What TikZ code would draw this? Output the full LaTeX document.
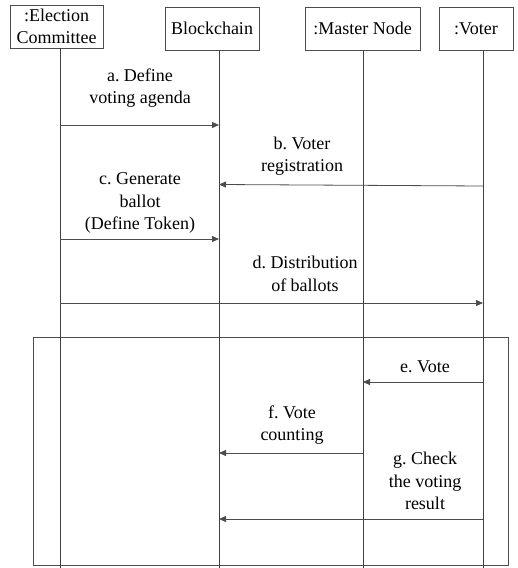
\documentclass[tikz,border=0pt]{standalone}
\usepackage{fontspec}
\setmainfont{Liberation Serif}
\usetikzlibrary{arrows.meta}
\begin{document}
\begin{tikzpicture}[x=1pt,y=-1pt,
  head/.style={draw=black!70,line width=0.8pt,inner sep=0pt,align=center,font=\fontsize{18}{21.5}\selectfont\frenchspacing},
  life/.style={draw=black!75,line width=0.7pt},
  msg/.style={draw=black!70,line width=0.8pt,-{Triangle[length=7pt,width=6pt]}},
  lbl/.style={align=center,inner sep=0pt,font=\fontsize{18}{22.5}\selectfont\frenchspacing},
  frame/.style={draw=black!70,line width=0.8pt}]
\useasboundingbox (0,0) rectangle (518,568);
% headers
\node[head,minimum width=93pt,minimum height=43pt] (ec) at (56.5,26.5) {:Election\\Committee};
\node[head,minimum width=94pt,minimum height=43pt] (bc) at (212,28.5) {Blockchain};
\node[head,minimum width=115pt,minimum height=43pt] (mn) at (362.5,28.5) {:Master Node};
\node[head,minimum width=74pt,minimum height=43pt] (vo) at (476,28.5) {:Voter};
% lifeline ends
\coordinate (ecb) at (60,568);
\coordinate (bcb) at (219,568);
\coordinate (mnb) at (363,568);
\coordinate (vob) at (483,568);
\coordinate (ect) at (60,48);
\coordinate (bct) at (219,50);
\coordinate (mnt) at (363,50);
\coordinate (vot) at (483,50);
\draw[life] (ect) -- (ecb);
\draw[life] (bct) -- (bcb);
\draw[life] (mnt) -- (mnb);
\draw[life] (vot) -- (vob);
% frame
\node[frame,minimum width=475pt,minimum height=228pt,inner sep=0pt] (fr) at (270.5,451) {};
% message end points
\coordinate (a1) at (60,125); \coordinate (a2) at (219,125);
\coordinate (b1) at (483,186); \coordinate (b2) at (219,184.5);
\coordinate (c1) at (60,239); \coordinate (c2) at (219,239);
\coordinate (d1) at (60,303); \coordinate (d2) at (483,303);
\coordinate (e1) at (483,382); \coordinate (e2) at (363,382);
\coordinate (f1) at (363,453); \coordinate (f2) at (219,453);
\coordinate (g1) at (483,519); \coordinate (g2) at (219,519);
\draw[msg] (a1) -- (a2);
\draw[msg] (b1) -- (b2);
\draw[msg] (c1) -- (c2);
\draw[msg] (d1) -- (d2);
\draw[msg] (e1) -- (e2);
\draw[msg] (f1) -- (f2);
\draw[msg] (g1) -- (g2);
% labels
\node[lbl] (la) at (140,88) {a. Define\\voting agenda};
\node[lbl] (lb) at (302,156) {b. Voter\\registration};
\node[lbl] (lc) at (140,203) {c. Generate\\ballot\\(Define Token)};
\node[lbl] (ld) at (305,274) {d. Distribution\\of ballots};
\node[lbl] (le) at (425,367) {e. Vote};
\node[lbl] (lf) at (292,425) {f. Vote\\counting};
\node[lbl] (lg) at (425,481) {g. Check\\the voting\\result};
\end{tikzpicture}
\end{document}
